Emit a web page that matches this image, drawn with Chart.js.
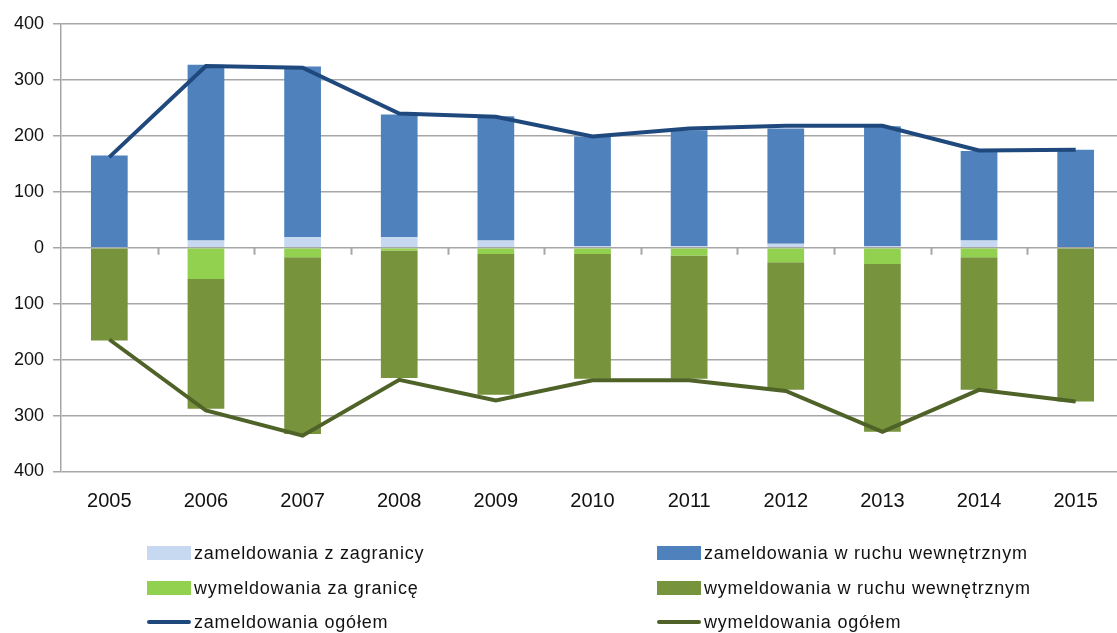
<!DOCTYPE html>
<html>
<head>
<meta charset="utf-8">
<script src="https://cdn.jsdelivr.net/npm/chart.js@4/dist/chart.umd.min.js"></script>
<style>
  html, body { margin: 0; padding: 0; background: #fff; }
  #wrap { position: relative; width: 1117px; height: 633px; overflow: hidden; }
  #chartBox { position: absolute; left: 0; top: 0; width: 1124px; height: 520px; }
  #legend { position: absolute; left: 0; top: 0; width: 1117px; height: 633px; pointer-events: none; }
  .item { position: absolute; display: flex; align-items: center; height: 20px;
          font-family: "Liberation Sans", Arial, sans-serif; font-size: 18px; color: #111;
          letter-spacing: 0.8px; white-space: nowrap; }
  .sw { display: inline-block; width: 44px; height: 14px; margin-right: 3px; }
  .ln { display: inline-block; width: 44px; height: 4px; margin-right: 3px; border-radius: 2px; }
</style>
</head>
<body>
<div id="wrap">
  <div id="chartBox"><canvas id="chart"></canvas></div>
  <div id="legend"></div>
</div>
<script>
const YEARS = ["2005", "2006", "2007", "2008", "2009", "2010", "2011", "2012", "2013", "2014", "2015"];

// zameldowania (dodatnie)
const IN_ABROAD = [1, 13, 19, 19, 13, 3, 3, 7, 3, 13, 0];
const IN_DOMESTIC = [164, 314, 305, 219, 222, 196, 207, 206, 214, 160, 175];
// wymeldowania (ujemne)
const OUT_ABROAD = [0, -56, -17, -5, -11, -11, -14, -26, -29, -17, 0];
const OUT_DOMESTIC = [-166, -232, -316, -228, -252, -223, -220, -228, -300, -237, -275];
// ogółem
const IN_TOTAL = [162, 325, 322, 240, 234, 199, 213, 218, 218, 174, 175];
const OUT_TOTAL = [-164, -291, -336, -236, -273, -237, -237, -256, -329, -254, -275];

const Y_TICKS = [-400, -300, -200, -100, 0, 100, 200, 300, 400];

const GRID = "#a6a6a6";
const FAMILY = "'Liberation Sans', Arial, sans-serif";

// small tick marks on the zero line between categories
const zeroTicks = {
  id: "zeroTicks",
  afterDatasetsDraw(chart) {
    const x = chart.scales.x;
    const y0 = chart.scales.y.getPixelForValue(0);
    const half = (x.getPixelForValue(1) - x.getPixelForValue(0)) / 2;
    const ctx = chart.ctx;
    ctx.save();
    ctx.strokeStyle = GRID;
    ctx.lineWidth = 2;
    for (let i = 1; i < YEARS.length; i++) {
      const px = Math.round(x.getPixelForValue(i) - half) + 0.5;
      ctx.beginPath();
      ctx.moveTo(px, y0);
      ctx.lineTo(px, y0 + 7);
      ctx.stroke();
    }
    ctx.restore();
  }
};

const bar = (label, data, color) => ({
  type: "bar", label, data, backgroundColor: color, stack: "s", order: 1,
  barPercentage: 0.38, categoryPercentage: 1
});
const line = (label, data, color, stack) => ({
  type: "line", label, data, borderColor: color, backgroundColor: color, stack, order: 0,
  borderWidth: 4, pointRadius: 0, tension: 0, fill: false
});

const datasets = [
  bar("zameldowania z zagranicy", IN_ABROAD, "#c6d9f1"),
  bar("zameldowania w ruchu wewnętrznym", IN_DOMESTIC, "#4f81bd"),
  bar("wymeldowania za granicę", OUT_ABROAD, "#92d050"),
  bar("wymeldowania w ruchu wewnętrznym", OUT_DOMESTIC, "#77933c"),
  line("zameldowania ogółem", IN_TOTAL, "#1f497d", "l1"),
  line("wymeldowania ogółem", OUT_TOTAL, "#4f6228", "l2")
];

const chart = new Chart(document.getElementById("chart"), {
  data: { labels: YEARS, datasets },
  options: {
    responsive: true,
    maintainAspectRatio: false,
    animation: false,
    layout: { padding: { top: 24, right: 0, left: 0, bottom: 0 } },
    plugins: { legend: { display: false }, tooltip: { enabled: false } },
    scales: {
      x: {
        stacked: true,
        grid: { display: false, drawTicks: false },
        border: { display: false },
        ticks: { color: "#111", font: { family: FAMILY, size: 20 }, padding: 18 },
        afterFit(scale) { scale.height = 48.5; }
      },
      y: {
        stacked: true,
        min: -400,
        max: 400,
        afterBuildTicks(scale) { scale.ticks = Y_TICKS.map(v => ({ value: v })); },
        grid: { color: GRID, lineWidth: 1.5, tickLength: 8 },
        border: { color: GRID, width: 1.5 },
        ticks: { color: "#111", font: { family: FAMILY, size: 18 }, padding: 9, callback: v => Math.abs(v) },
        afterFit(scale) { scale.width = 61; }
      }
    }
  },
  plugins: [zeroTicks]
});

// legend in two columns, as in the original
const legend = document.getElementById("legend");
const cols = [147, 657];
const rows = [553, 588, 622];
datasets.forEach((ds, i) => {
  const el = document.createElement("div");
  el.className = "item";
  el.style.left = cols[i % 2] + "px";
  el.style.top = (rows[Math.floor(i / 2)] - 10) + "px";
  const sw = document.createElement("span");
  sw.className = ds.type === "line" ? "ln" : "sw";
  sw.style.background = ds.type === "line" ? ds.borderColor : ds.backgroundColor;
  el.appendChild(sw);
  el.appendChild(document.createTextNode(ds.label));
  legend.appendChild(el);
});
</script>
</body>
</html>
